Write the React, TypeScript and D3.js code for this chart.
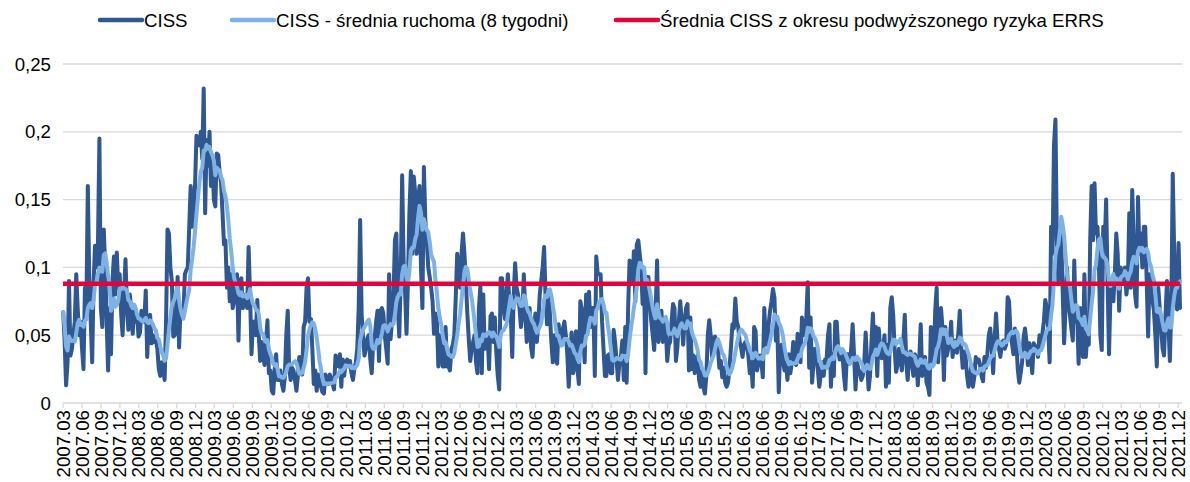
import React from "react";
import * as d3 from "d3";

const width = 1190, height = 482;
const left = 63, right = 1182, top = 64, bottom = 403;

const seriesNames = [
  "CISS",
  "CISS - średnia ruchoma (8 tygodni)",
  "Średnia CISS z okresu podwyższonego ryzyka ERRS",
];
const colors = ["#2f5791", "#7fb2e4", "#e4003b"];

// weekly CISS readings, first reading 2007-03-02
const firstWeek = new Date(2007, 2, 2);
const errsMean = 0.088;
const maWindow = 8;
const yTicks = [0, 0.05, 0.1, 0.15, 0.2, 0.25];
const tickDates = d3.timeMonths(new Date(2007, 2, 1), new Date(2021, 11, 2), 3);

const cissFrom2007_03 = [
  0.067, 0.045, 0.013, 0.03, 0.09, 0.035, 0.04, 0.05, 0.06, 0.095,
  0.07, 0.05, 0.06, 0.04, 0.025, 0.085, 0.07, 0.16, 0.09, 0.06,
  0.03, 0.09, 0.116, 0.1, 0.118, 0.195, 0.07, 0.056, 0.128, 0.1,
  0.06, 0.024, 0.07, 0.036, 0.09, 0.108, 0.08, 0.111, 0.085, 0.095,
  0.066, 0.05, 0.08, 0.106, 0.07, 0.054, 0.08, 0.068, 0.051, 0.072,
  0.06, 0.065, 0.049, 0.052, 0.068, 0.065, 0.06, 0.083, 0.034, 0.06,
  0.065, 0.044, 0.05, 0.045, 0.046, 0.04, 0.025, 0.02, 0.03, 0.026,
  0.017, 0.06, 0.128, 0.125, 0.1, 0.09, 0.049, 0.05, 0.06, 0.093,
  0.041, 0.07, 0.068, 0.066, 0.095, 0.098, 0.1, 0.13, 0.16, 0.13,
  0.14, 0.16, 0.197, 0.19,
];
const cissFrom2008_12 = [
  0.19, 0.2, 0.18, 0.232, 0.14, 0.194, 0.175, 0.2, 0.16, 0.18,
  0.15, 0.145, 0.184, 0.183, 0.17, 0.162, 0.14, 0.117, 0.12, 0.085,
  0.1, 0.075, 0.095, 0.07, 0.075, 0.09, 0.095, 0.046, 0.09, 0.092,
  0.07, 0.075, 0.08, 0.07, 0.115, 0.08, 0.036, 0.06, 0.06, 0.05,
  0.076, 0.05, 0.031, 0.045, 0.035, 0.028, 0.045, 0.061, 0.022, 0.024,
  0.009, 0.007, 0.025, 0.036, 0.017, 0.017, 0.024, 0.014, 0.009, 0.019,
  0.05, 0.068, 0.026, 0.017, 0.026, 0.024, 0.017, 0.009, 0.02, 0.034,
  0.026, 0.021, 0.056, 0.06, 0.085, 0.092, 0.06, 0.062, 0.04, 0.014,
  0.024, 0.009, 0.021, 0.016, 0.012, 0.008, 0.007, 0.021, 0.016, 0.014,
  0.021, 0.018, 0.014, 0.01, 0.035, 0.027, 0.03,
];
const cissFrom2010_10 = [
  0.036, 0.012, 0.032, 0.02, 0.03, 0.032, 0.027, 0.031, 0.022, 0.017,
  0.025, 0.03, 0.04, 0.07, 0.135, 0.066, 0.048, 0.035, 0.04, 0.048,
  0.05, 0.032, 0.022, 0.045, 0.047, 0.06, 0.068, 0.031, 0.068, 0.07,
  0.066, 0.05, 0.04, 0.029, 0.095, 0.047, 0.061, 0.078, 0.12, 0.125,
  0.07, 0.049, 0.09, 0.168, 0.105, 0.083, 0.051, 0.09, 0.14, 0.171,
  0.11, 0.167, 0.155, 0.11, 0.15, 0.16, 0.1, 0.07, 0.174, 0.135,
  0.12, 0.1, 0.093, 0.085, 0.075, 0.051, 0.066, 0.06, 0.027, 0.05,
  0.045, 0.027, 0.027, 0.056, 0.027, 0.027, 0.024, 0.04, 0.043, 0.05,
  0.078, 0.11, 0.095, 0.085, 0.11, 0.125, 0.11, 0.09, 0.066, 0.047,
  0.031, 0.04, 0.045, 0.05, 0.03, 0.022,
];
const cissFrom2012_08 = [
  0.07, 0.086, 0.022, 0.08, 0.04, 0.045, 0.05, 0.025, 0.064, 0.066,
  0.045, 0.063, 0.037, 0.02, 0.01, 0.092, 0.092, 0.07, 0.062, 0.08,
  0.095, 0.075, 0.065, 0.034, 0.08, 0.103, 0.085, 0.08, 0.07, 0.056,
  0.066, 0.095, 0.067, 0.045, 0.06, 0.07, 0.041, 0.034, 0.054, 0.066,
  0.045, 0.06, 0.08, 0.09, 0.1, 0.115, 0.078, 0.058, 0.083, 0.066,
  0.045, 0.03, 0.05, 0.036, 0.029, 0.058, 0.047, 0.043, 0.055, 0.06,
  0.05, 0.036, 0.012, 0.035, 0.052, 0.022, 0.028, 0.053, 0.025, 0.014,
  0.075, 0.07, 0.05, 0.03, 0.08, 0.06, 0.082, 0.056, 0.07, 0.07,
  0.02, 0.108, 0.095, 0.095, 0.095, 0.06, 0.04, 0.02, 0.02, 0.035,
  0.036, 0.022, 0.022, 0.054, 0.045, 0.032, 0.017,
];
const cissFrom2014_07 = [
  0.03, 0.034, 0.046, 0.017, 0.056, 0.015, 0.07, 0.105, 0.1, 0.088,
  0.112, 0.075, 0.117, 0.12, 0.11, 0.1, 0.073, 0.093, 0.022, 0.093,
  0.093, 0.075, 0.06, 0.05, 0.039, 0.068, 0.105, 0.045, 0.06, 0.068,
  0.045, 0.061, 0.056, 0.031, 0.043, 0.045, 0.06, 0.073, 0.07, 0.031,
  0.041, 0.06, 0.075, 0.06, 0.043, 0.06, 0.07, 0.073, 0.024, 0.063,
  0.025, 0.035, 0.022, 0.033, 0.035, 0.017, 0.012, 0.025, 0.012, 0.007,
  0.02, 0.05, 0.061, 0.05, 0.034, 0.048, 0.049, 0.045, 0.04, 0.026,
  0.031, 0.019, 0.026, 0.015, 0.012, 0.015, 0.026, 0.041, 0.058, 0.055,
  0.077, 0.06, 0.056, 0.045, 0.041, 0.034, 0.043, 0.045, 0.043, 0.035,
  0.022, 0.03, 0.012, 0.056, 0.053, 0.024, 0.03,
];
const cissFrom2016_05 = [
  0.035, 0.03, 0.019, 0.07, 0.046, 0.043, 0.058, 0.068, 0.075, 0.084,
  0.078, 0.046, 0.058, 0.008, 0.04, 0.043, 0.03, 0.024, 0.03, 0.017,
  0.036, 0.022, 0.03, 0.045, 0.03, 0.028, 0.051, 0.041, 0.03, 0.063,
  0.05, 0.058, 0.062, 0.089, 0.026, 0.063, 0.015, 0.03, 0.04, 0.035,
  0.024, 0.012, 0.021, 0.03, 0.02, 0.032, 0.032, 0.05, 0.058, 0.012,
  0.036, 0.02, 0.06, 0.06, 0.04, 0.032, 0.034, 0.036, 0.02, 0.01,
  0.036, 0.036, 0.029, 0.04, 0.058, 0.035, 0.01, 0.03, 0.025, 0.022,
  0.017, 0.02, 0.029, 0.052, 0.03, 0.01, 0.02, 0.045, 0.066, 0.037,
  0.056, 0.02, 0.055, 0.04, 0.033, 0.04, 0.05, 0.012, 0.043, 0.015,
  0.07, 0.078, 0.065, 0.04, 0.023, 0.028, 0.04,
];
const cissFrom2018_03 = [
  0.035, 0.024, 0.045, 0.065, 0.03, 0.017, 0.036, 0.038, 0.028, 0.02,
  0.036, 0.032, 0.013, 0.033, 0.058, 0.02, 0.025, 0.034, 0.015, 0.012,
  0.006, 0.056, 0.046, 0.03, 0.068, 0.085, 0.03, 0.05, 0.07, 0.056,
  0.017, 0.056, 0.035, 0.04, 0.046, 0.06, 0.034, 0.043, 0.046, 0.037,
  0.052, 0.068, 0.04, 0.026, 0.038, 0.034, 0.02, 0.012, 0.018, 0.028,
  0.012, 0.019, 0.034, 0.03, 0.032, 0.028, 0.02, 0.016, 0.034, 0.026,
  0.036, 0.05, 0.055, 0.04, 0.022, 0.047, 0.066, 0.046, 0.04, 0.034,
  0.044, 0.046, 0.04, 0.043, 0.078, 0.075, 0.05, 0.044, 0.036, 0.055,
  0.046, 0.025, 0.015, 0.022, 0.03, 0.048, 0.055, 0.045, 0.028, 0.044,
  0.034, 0.022, 0.044, 0.042, 0.04, 0.034, 0.05,
];
const cissFrom2020_02 = [
  0.045, 0.051, 0.06, 0.076, 0.07, 0.055, 0.03, 0.13, 0.11, 0.19,
  0.209, 0.12, 0.09, 0.13, 0.12, 0.083, 0.044, 0.07, 0.1, 0.075,
  0.065, 0.055, 0.046, 0.105, 0.06, 0.066, 0.029, 0.07, 0.05, 0.034,
  0.095, 0.034, 0.05, 0.043, 0.12, 0.16, 0.12, 0.162, 0.125, 0.13,
  0.105, 0.05, 0.039, 0.13, 0.115, 0.15, 0.09, 0.036, 0.08, 0.085,
  0.075, 0.095, 0.125, 0.11, 0.068, 0.1, 0.09, 0.09, 0.1, 0.08,
  0.09, 0.14, 0.085, 0.157, 0.12, 0.08, 0.071, 0.152, 0.11, 0.125,
  0.1, 0.13, 0.13, 0.09, 0.049, 0.095, 0.085, 0.076, 0.068, 0.05,
  0.027, 0.085, 0.07, 0.055, 0.04, 0.035, 0.065, 0.09, 0.06, 0.031,
  0.07, 0.169, 0.11, 0.08, 0.069, 0.118, 0.07,
];

const ciss = [
  ...cissFrom2007_03, ...cissFrom2008_12, ...cissFrom2010_10, ...cissFrom2012_08,
  ...cissFrom2014_07, ...cissFrom2016_05, ...cissFrom2018_03, ...cissFrom2020_02,
];

type Pt = { date: Date; value: number };

const font = "'Liberation Sans', Arial, sans-serif";
const fs = 18.67;

export default function App() {
  const points: Pt[] = ciss.map((v, i) => ({ date: d3.timeDay.offset(firstWeek, i * 7), value: v }));
  const movingAvg: Pt[] = points.map((p, i) => ({
    date: p.date,
    value: d3.mean(ciss.slice(Math.max(0, i - maWindow + 1), i + 1)) as number,
  }));

  const x = d3.scaleTime()
    .domain([tickDates[0], points[points.length - 1].date])
    .range([left, right - 2]);
  const y = d3.scaleLinear().domain([0, 0.25]).range([bottom, top]);

  const line = d3.line<Pt>()
    .x(d => x(d.date))
    .y(d => y(d.value));

  const yFmt = (v: number) => (v === 0 ? "0" : String(+v.toFixed(2)).replace(".", ","));
  const xFmt = d3.timeFormat("%Y.%m");

  // legend entries: sample line and text start
  const legend = [
    { x1: 100, x2: 142, tx: 144 },
    { x1: 232, x2: 274, tx: 276 },
    { x1: 616, x2: 658, tx: 660 },
  ];

  return (
    <svg width={width} height={height} style={{ position: "absolute", left: 0, top: 0, background: "#fff" }}
      fontFamily={font}>
      {yTicks.map(t => (
        <g key={t}>
          <line x1={left} x2={right} y1={y(t)} y2={y(t)} stroke="#d9d9d9" strokeWidth={1.3} />
          <text x={51} y={y(t)} textAnchor="end" dominantBaseline="central" fontSize={fs} fill="#000">
            {yFmt(t)}
          </text>
        </g>
      ))}
      {tickDates.map((d, i) => (
        <g key={i}>
          <line x1={x(d)} x2={x(d)} y1={bottom} y2={bottom + 5} stroke="#d9d9d9" strokeWidth={1.3} />
          <text transform={`translate(${x(d)},${bottom + 7}) rotate(-90)`} textAnchor="end"
            dominantBaseline="central" fontSize={fs} fill="#000">
            {xFmt(d)}
          </text>
        </g>
      ))}
      <path d={line(points) || ""} fill="none" stroke={colors[0]} strokeWidth={4} strokeLinejoin="round" strokeLinecap="round" />
      <path d={line(movingAvg) || ""} fill="none" stroke={colors[1]} strokeWidth={4} strokeLinejoin="round" strokeLinecap="round" />
      <line x1={left} x2={right - 2} y1={y(errsMean)} y2={y(errsMean)} stroke={colors[2]} strokeWidth={4.5} />
      {legend.map((l, i) => (
        <g key={i}>
          <line x1={l.x1} x2={l.x2} y1={20} y2={20} stroke={colors[i]} strokeWidth={4.5} strokeLinecap="round" />
          <text x={l.tx} y={20} dominantBaseline="central" fontSize={fs} fill="#000">{seriesNames[i]}</text>
        </g>
      ))}
    </svg>
  );
}
